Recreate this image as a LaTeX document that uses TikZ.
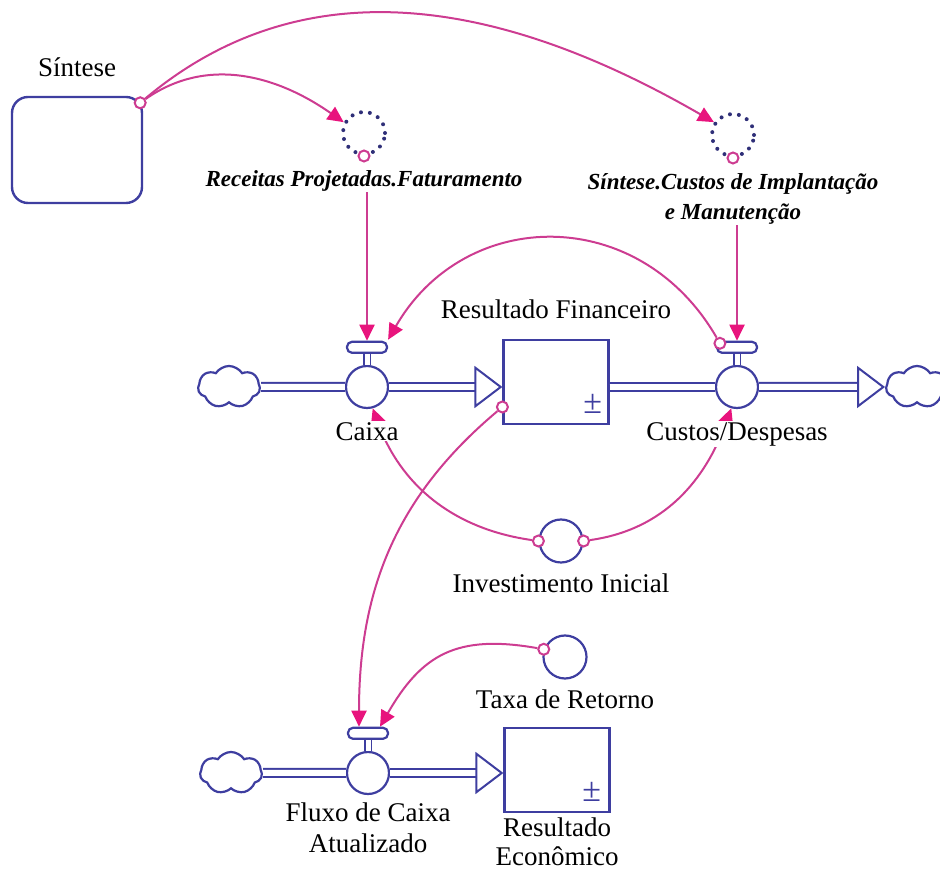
\documentclass[tikz,border=0pt]{standalone}
\usepackage{fontspec}
\setmainfont{Liberation Serif}
\usetikzlibrary{positioning,arrows.meta,shapes.symbols,calc}
\definecolor{sdblue}{RGB}{62,62,160}
\definecolor{sdpink}{RGB}{205,60,145}
\definecolor{sdhot}{RGB}{232,20,125}
\pgfdeclarelayer{links}
\pgfsetlayers{links,main}
\tikzset{
  sd/.style={x=1pt,y=1pt,
    line width=2.2pt,
    label distance=8pt},
  every label/.style={phantom,fill=white,inner sep=1pt,align=center,font=\fontsize{27}{31}\selectfont},
  phantom/.style={rectangle,inner sep=0pt,draw=none,fill=none},
  ghostlabel/.style={phantom,align=center,font=\fontsize{23}{30}\selectfont\bfseries\itshape},
  module/.style={rectangle,rounded corners=16pt,draw=sdblue,line width=2.4pt,minimum width=130pt,minimum height=106pt},
  stock/.style={rectangle,draw=sdblue,fill=white,line width=2.2pt,minimum width=105pt,minimum height=84pt},
  aux/.style={circle,draw=sdblue,fill=white,line width=2.2pt,minimum size=43pt,inner sep=0pt},
  ghost/.style={circle,draw=sdblue!75!black,line width=4pt,line cap=round,dash pattern=on 0pt off 9pt,minimum size=42pt,inner sep=0pt},
  valve/.style={circle,draw=sdblue,fill=white,line width=2.2pt,minimum size=42pt,inner sep=0pt},
  handle/.style={rectangle,rounded corners=5pt,draw=sdblue,fill=white,line width=2.2pt,minimum width=40pt,minimum height=11pt,inner sep=0pt},
  source/.style={cloud,cloud puffs=7,cloud puff arc=115,aspect=1.5,draw=sdblue,fill=white,line width=2.2pt,minimum width=62pt,minimum height=42pt,inner sep=0pt},
  pipe/.style={draw=sdblue,line width=2pt,double=white,double distance=6pt},
  stem/.style={draw=sdblue,line width=1.8pt,double=white,double distance=5pt},
  inflow/.style={pipe,-{Triangle[length=28pt,width=42pt,fill=white,line width=2pt]}},
  link/.style={draw=sdpink,line width=2pt,-{Triangle[length=16pt,width=15pt,color=sdhot]}},
  tail/.style={circle,draw=sdpink,fill=white,line width=2pt,minimum size=11pt,inner sep=0pt},
  plusminus/.style={phantom,font=\fontsize{34}{34}\selectfont,text=sdblue}
}
\begin{document}
\begin{tikzpicture}[sd]
  \useasboundingbox (0,0) rectangle (940,870);
  % module and ghosts
  \node[module] (sintese) [label={[label distance=17pt]above:Síntese}] at (77,720) {};
  \node[ghost] (recghost) at (364,737) {};
  \node[ghostlabel] (rectxt) [below=13pt of recghost] {Receitas Projetadas.Faturamento};
  \node[ghost] (custghost) at (733,735) {};
  \node[ghostlabel] (custtxt) [below=14pt of custghost] {Síntese.Custos de Implantação\\e Manutenção};
  % main chain
  \node[source] (cloudA) at (229,483) {};
  \node[valve] (caixa) [label={[label distance=11pt]below:Caixa}] at (367,483) {};
  \node[handle] (caixahandle) [above=11pt of caixa] {};
  \node[stock] (resfin) [label={[label distance=18pt]above:Resultado Financeiro}] at (556,488) {};
  \node[plusminus] (resfinpm) at ($(resfin.south east)+(-17,21)$) {±};
  \node[valve] (custos) [label={[label distance=11pt]below:Custos/Despesas}] at (737,483) {};
  \node[handle] (custhandle) [above=11pt of custos] {};
  \node[source] (cloudB) at (917,483) {};
  \node[aux] (invest) [label=below:Investimento Inicial] at (561,329) {};
  % second chain
  \node[aux] (taxa) [label=below:Taxa de Retorno] at (565,213) {};
  \node[source] (cloudC) at (231,97) {};
  \node[valve] (fluxo) [label={[label distance=6pt]below:Fluxo de Caixa\\Atualizado}] at (368,97) {};
  \node[handle] (fluxohandle) [above=11pt of fluxo] {};
  \node[stock] (resecon) [label={[label distance=3pt,font=\fontsize{27}{29}\selectfont]below:Resultado\\Econômico}] at (557,100) {};
  \node[plusminus] (reseconpm) at ($(resecon.south east)+(-19,21)$) {±};
  % pipes
  \draw[pipe] (cloudA) -- (caixa);
  \draw[inflow] (caixa.east) -- (caixa.east -| resfin.west);
  \draw[pipe] (custos.west -| resfin.east) -- (custos.west);
  \draw[inflow] (custos.east) -- (cloudB.west);
  \draw[pipe] (cloudC) -- (fluxo);
  \draw[inflow] (fluxo.east) -- (fluxo.east -| resecon.west);
  \draw[stem] (caixa.north) -- (caixahandle.south);
  \draw[stem] (custos.north) -- (custhandle.south);
  \draw[stem] (fluxo.north) -- (fluxohandle.south);
  % tails
  \node[tail] (sintesetail) at ($(sintese.north east)+(-3,-7)$) {};
  \node[tail] (rectail) at (recghost.south) {};
  \node[tail] (custghosttail) at (custghost.south) {};
  \node[tail] (resfintail) at ($(resfin.west)+(0,-25)$) {};
  \node[tail] (custostail) at ($(custhandle.west)+(4,4)$) {};
  \node[tail] (investW) at (invest.west) {};
  \node[tail] (investE) at (invest.east) {};
  \node[tail] (taxatail) at (taxa.160) {};
  % links (behind the nodes and labels)
  \begin{pgfonlayer}{links}
  \draw[link] (sintesetail) to[out=35,in=145] (recghost.152);
  \draw[link] (sintesetail) to[out=40,in=150] (custghost.146);
  \draw[link] (caixahandle.north |- rectxt.south) -- (caixahandle.north);
  \draw[link] (custhandle.north |- custtxt.south) -- (custhandle.north);
  \draw[link] (custostail) to[out=120,in=60,looseness=1.2] ($(caixahandle.north east)+(0,1)$);
  \draw[link] (investW) to[out=172,in=-70] (caixa.-75);
  \draw[link] (investE) to[out=8,in=-110] (custos.-105);
  \draw[link] (resfintail) to[out=220,in=90] ($(fluxohandle.north)+(-9,0)$);
  \draw[link] (taxatail) to[out=170,in=60,looseness=1.2] ($(fluxohandle.north)+(12,0)$);
  \end{pgfonlayer}
\end{tikzpicture}
\end{document}
